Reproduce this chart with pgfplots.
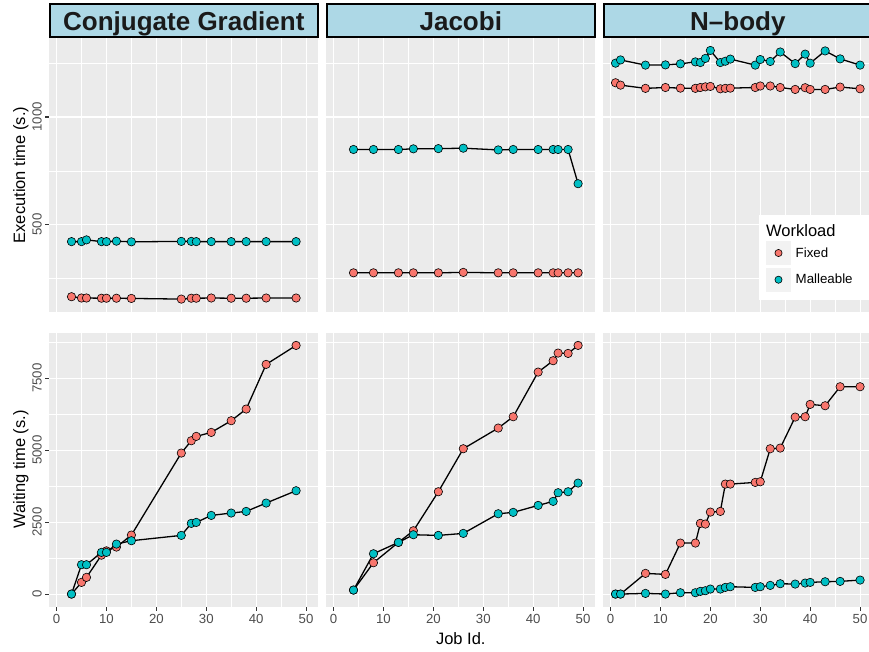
\documentclass[border=0pt]{standalone}
\usepackage{fontspec}
\setmainfont{Liberation Sans}
\usepackage{pgfplots}
\usepackage{pgfplotstable}
\pgfplotsset{compat=1.18}

\definecolor{panelgray}{HTML}{EBEBEB}
\definecolor{stripblue}{HTML}{ADD8E6}
\definecolor{fixedc}{HTML}{F8766D}
\definecolor{mallc}{HTML}{00BFC4}
\definecolor{tickgray}{HTML}{333333}
\definecolor{labgray}{HTML}{4D4D4D}
\definecolor{keygray}{HTML}{F2F2F2}
\definecolor{striptext}{HTML}{1A1A1A}

\newcommand\tickfont{\fontsize{13.2}{15}\selectfont}
\newcommand\titlefont{\fontsize{16.5}{19}\selectfont}
\newcommand\legfont{\fontsize{13.3}{15}\selectfont}
\newcommand\stripfont{\fontsize{26}{28}\selectfont\bfseries}

% job, execution time (fixed, malleable), waiting time (fixed, malleable)
\pgfplotstableread{
job ef em wf wm
3 165 421 0 0
5 159 421 405 1019
6 159 429 579 1019
9 158 421 1350 1447
10 158 421 1500 1447
12 158 423 1632 1736
15 157 420 2049 1852
25 154 422 4896 2037
27 158 422 5324 2454
28 158 421 5475 2488
31 159 421 5613 2731
35 158 421 6019 2813
38 158 421 6424 2870
42 159 421 7975 3160
48 159 421 8634 3588
}\cgdata

\pgfplotstableread{
job ef em wf wm
4 276 849 139 139
8 276 849 1088 1400
13 276 849 1794 1794
16 276 852 2199 2060
21 276 853 3553 2037
26 278 855 5046 2106
33 276 847 5764 2789
36 276 849 6157 2836
41 276 849 7708 3079
44 276 849 8102 3218
45 276 849 8368 3519
47 276 849 8356 3553
49 276 690 8634 3854
}\jacdata

\pgfplotstableread{
job ef em wf wm
1 1159 1250 0 0
2 1148 1265 0 0
7 1133 1241 718 23
11 1137 1242 683 0
14 1134 1247 1771 46
17 1133 1256 1771 46
18 1137 1253 2454 93
19 1140 1272 2431 116
20 1142 1309 2847 174
22 1131 1253 2870 174
23 1133 1259 3819 231
24 1134 1269 3819 255
29 1137 1241 3877 231
30 1144 1267 3900 255
32 1144 1258 5046 301
34 1137 1302 5069 359
37 1128 1248 6146 347
39 1136 1292 6157 382
40 1128 1250 6586 405
43 1128 1307 6539 428
46 1139 1270 7199 440
50 1131 1241 7199 486
}\nbdata

\pgfplotsset{
  facet/.style={
    scale only axis, width=269pt, height=274pt, anchor=south west,
    xmin=-1.45, xmax=52.45,
    axis background/.style={fill=panelgray},
    axis line style={draw=none},
    grid=both,
    major grid style={white, line width=1.1pt},
    minor grid style={white, line width=0.55pt},
    xtick={0,10,...,50}, minor xtick={5,15,...,45},
    tick align=outside, tick pos=left,
    major tick length=4pt, minor tick length=0pt,
    tick style={tickgray, line width=1.1pt},
    ticklabel style={font=\tickfont, text=labgray},
    yticklabel style={rotate=90, anchor=south},
    /pgf/number format/assume math mode=true,
    /pgf/number format/1000 sep={},
    every axis y label/.style={at={(axis description cs:-0.0903,0.5)}, rotate=90, anchor=base, font=\titlefont},
    every axis x label/.style={at={(axis description cs:0.5,-0.138)}, anchor=base, font=\titlefont},
  },
  toprow/.style={ymin=94, ymax=1367, ytick={500,1000}, minor ytick={250,750,1250},
    xticklabels={}, xmajorticks=false},
  botrow/.style={ymin=-432, ymax=9082, ytick={0,2500,5000,7500}, minor ytick={1250,3750,6250,8750}},
  inner/.style={yticklabels={}, ymajorticks=false},
  conn/.style={black, line width=1.3pt, no markers},
  fixedpt/.style={only marks, mark=*, mark size=4.2pt, mark options={fill=fixedc, draw=black, line width=0.6pt}},
  mallpt/.style={only marks, mark=*, mark size=4.2pt, mark options={fill=mallc, draw=black, line width=0.6pt}},
}

% lines underneath, then fixed points, then malleable points
\newcommand\series[3]{%
  \addplot[conn] table[x=job,y=#2]{#1};
  \addplot[conn] table[x=job,y=#3]{#1};
  \addplot[fixedpt] table[x=job,y=#2]{#1};
  \addplot[mallpt] table[x=job,y=#3]{#1};
}

\begin{document}
\begin{tikzpicture}[x=1pt,y=1pt]
\useasboundingbox (0,0) rectangle (869,651);

% execution time row
\begin{axis}[facet, toprow, at={(49.3pt,339pt)}, ylabel={Execution time (s.)}]
\series{\cgdata}{ef}{em}
\end{axis}
\begin{axis}[facet, toprow, inner, at={(326.3pt,339pt)}]
\series{\jacdata}{ef}{em}
\end{axis}
\begin{axis}[facet, toprow, inner, at={(603.3pt,339pt)}]
\series{\nbdata}{ef}{em}
\end{axis}

% waiting time row
\begin{axis}[facet, botrow, at={(49.3pt,44.5pt)}, ylabel={Waiting time (s.)}]
\series{\cgdata}{wf}{wm}
\end{axis}
\begin{axis}[facet, botrow, inner, at={(326.3pt,44.5pt)}, xlabel={Job Id.}]
\series{\jacdata}{wf}{wm}
\end{axis}
\begin{axis}[facet, botrow, inner, at={(603.3pt,44.5pt)}]
\series{\nbdata}{wf}{wm}
\end{axis}

% facet strips
\foreach \L/\name in {49.3/Conjugate Gradient, 326.3/Jacobi, 603.3/N{\textendash}body}{
  \draw[fill=stripblue, line width=2pt] (\L+0.8,614) rectangle (\L+268.2,647.3);
  \node[anchor=base, font=\stripfont, text=striptext, inner sep=0pt] at (\L+134.5,620.7) {\name};
}

% legend box and title
\fill[white] (759,351) rectangle (880,436);
\node[anchor=base west, font=\titlefont, inner sep=0pt] at (766,414.5) {Workload};

\begin{axis}[at={(603.3pt,339pt)}, anchor=south west, scale only axis,
  width=269pt, height=274pt, hide axis, xmin=0, xmax=1, ymin=0, ymax=1,
  legend style={at={(axis description cs:0.6048,0.2591)}, anchor=north west,
    draw=none, fill=none, inner sep=0pt, outer sep=0pt, row sep=2.7pt,
    column sep=4.7pt, font=\legfont, nodes={inner sep=0pt, anchor=west}},
  legend cell align=left,
  legend image code/.code={\fill[keygray] (0pt,-12pt) rectangle (25pt,12pt);
    \draw[#1] plot coordinates {(12.5pt,0pt)};}]
\addlegendimage{draw=none, mark=*, mark size=3.6pt, mark options={fill=fixedc, draw=black, line width=0.6pt}}
\addlegendentry{Fixed}
\addlegendimage{draw=none, mark=*, mark size=3.6pt, mark options={fill=mallc, draw=black, line width=0.6pt}}
\addlegendentry{Malleable}
\end{axis}
\end{tikzpicture}
\end{document}
